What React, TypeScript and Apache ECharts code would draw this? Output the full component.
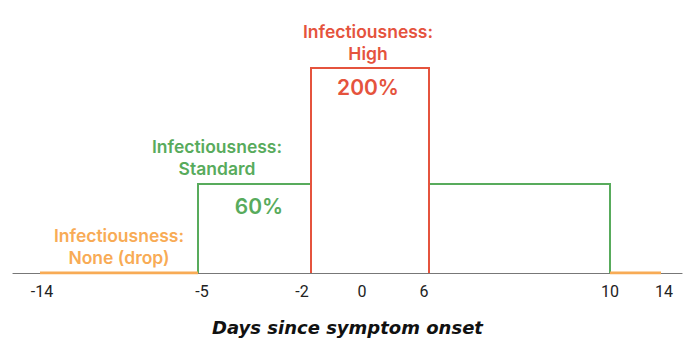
import React, { useEffect, useRef } from "react";
import * as echarts from "echarts";

// Schematic chart: days since symptom onset vs. relative infectiousness
const tickDays = [-14, -5, -2, 0, 6, 10, 14];
// horizontal placement of each tick label along the (schematic, non-linear) axis
const tickLabelPos = [29, 189, 289, 349, 411, 597, 651];
// horizontal placement of each period boundary along the same axis
const boundaryDays = [-14, -5, -2, 6, 10, 14];
const boundaryPos = [27, 185, 298, 416, 597, 648];
// infectiousness of each period (percent) and its schematic drawn height
const periodPercent = [0, 60, 200, 60, 0];
const levelPercent = [0, 60, 200];
const levelHeight = [0, 89, 205];
const levelNames = ["None (drop)", "Standard", "High"];

const RED = "#E5533D";
const GREEN = "#58AB5C";
const ORANGE = "#F8AB55";
const FONT = "Inter, 'Open Sans', sans-serif";

const xOf = (d: number) => boundaryPos[boundaryDays.indexOf(d)];
const yOf = (p: number) => levelHeight[levelPercent.indexOf(p)];

export default function App() {
  const ref = useRef<HTMLDivElement>(null);
  useEffect(() => {
    if (!ref.current) return;
    const chart = echarts.init(ref.current, undefined, { renderer: "svg" });

    const d = boundaryDays;
    const p = periodPercent;
    const pt = (day: number, pct: number) => [xOf(day), yOf(pct)];

    const orangeLeft = [pt(d[0], p[0]), pt(d[1], p[0])];
    const orangeRight = [pt(d[4], p[4]), pt(d[5], p[4])];
    const greenLeft = [pt(d[1], 0), pt(d[1], p[1]), pt(d[2], p[1])];
    const greenRight = [pt(d[3], p[3]), pt(d[4], p[3]), pt(d[4], 0)];
    const red = [pt(d[2], 0), pt(d[2], p[2]), pt(d[3], p[2]), pt(d[3], 0)];

    const lineSeries = (data: number[][], color: string, width: number, z: number) => ({
      type: "line",
      data,
      showSymbol: false,
      symbol: "none",
      lineStyle: { color, width, cap: "butt", join: "miter" },
      z,
      silent: true,
    });

    const annot = (x: number, y: number, text: string, color: string, size: number) => ({
      type: "text",
      x,
      y,
      style: {
        text,
        fill: color,
        font: `600 ${size}px ${FONT}`,
        align: "center",
        verticalAlign: "middle",
      },
    });

    chart.setOption({
      animation: false,
      grid: { left: 13, right: 8, top: 0, bottom: 77 },
      xAxis: {
        type: "value",
        min: 0,
        max: 669,
        splitLine: { show: false },
        axisTick: { show: false },
        axisLine: { show: true, lineStyle: { color: "#777", width: 1.2 } },
        axisLabel: {
          customValues: tickLabelPos,
          formatter: (v: number) => {
            const i = tickLabelPos.indexOf(v);
            return i >= 0 ? String(tickDays[i]) : "";
          },
          color: "#222",
          fontSize: 16,
          fontFamily: "Roboto, sans-serif",
          margin: 10,
        },
        name: "Days since symptom onset",
        nameLocation: "middle",
        nameGap: 45,
        nameTextStyle: {
          color: "#111",
          fontSize: 18,
          fontWeight: "bold",
          fontStyle: "italic",
          fontFamily: "'DejaVu Sans', sans-serif",
        },
      },
      yAxis: {
        type: "value",
        min: 0,
        max: 273,
        show: false,
        splitLine: { show: false },
      },
      series: [
        lineSeries(greenLeft, GREEN, 2, 2),
        lineSeries(greenRight, GREEN, 2, 2),
        lineSeries(red, RED, 2, 3),
        lineSeries(orangeLeft, ORANGE, 3, 4),
        lineSeries(orangeRight, ORANGE, 3, 4),
      ],
      graphic: [
        annot(368, 31.5, "Infectiousness:", RED, 17.5),
        annot(368, 53, levelNames[2], RED, 17.5),
        annot(368, 87, `${p[2]}%`, RED, 21),
        annot(217, 146.5, "Infectiousness:", GREEN, 17.5),
        annot(217, 168, levelNames[1], GREEN, 17.5),
        annot(259, 206, `${p[1]}%`, GREEN, 21),
        annot(119, 235.5, "Infectiousness:", ORANGE, 17.5),
        annot(119, 257, levelNames[0], ORANGE, 17.5),
      ],
    });
    return () => chart.dispose();
  }, []);
  return (
    <div
      ref={ref}
      style={{ position: "absolute", left: 0, top: 0, width: 690, height: 350 }}
    />
  );
}
